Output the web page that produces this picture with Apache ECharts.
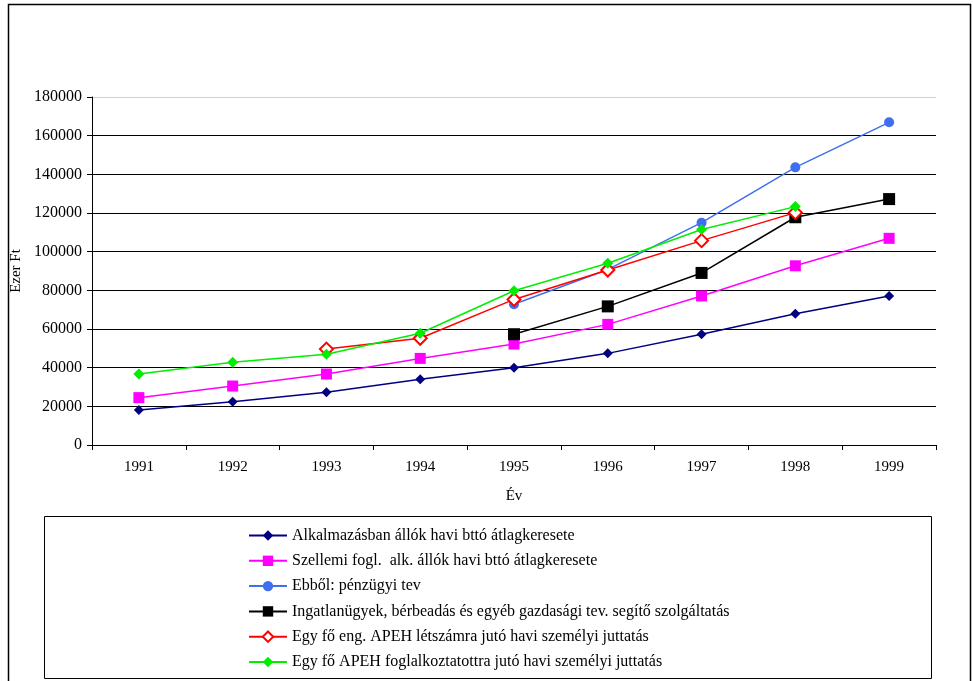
<!DOCTYPE html>
<html><head><meta charset="utf-8">
<script src="https://cdn.jsdelivr.net/npm/echarts@6/dist/echarts.min.js"></script>
<style>html,body{margin:0;padding:0;background:#fff}#c{width:973px;height:681px}</style>
</head><body><div id="c"></div>
<script>
const years = ['1991','1992','1993','1994','1995','1996','1997','1998','1999'];
const names = [
  'Alkalmazásban állók havi bttó átlagkeresete',
  'Szellemi fogl.  alk. állók havi bttó átlagkeresete',
  'Ebből: pénzügyi tev',
  'Ingatlanügyek, bérbeadás és egyéb gazdasági tev. segítő szolgáltatás',
  'Egy fő eng. APEH létszámra jutó havi személyi juttatás',
  'Egy fő APEH foglalkoztatottra jutó havi személyi juttatás'
];
const alkalmazas = [18100, 22400, 27300, 34000, 40000, 47400, 57300, 67900, 77100];
const szellemi = [24500, 30500, 36700, 44800, 52200, 62400, 77100, 92700, 106900];
const penzugyi = [null, null, null, null, 72800, 90800, 115000, 143600, 166900];
const ingatlan = [null, null, null, null, 57300, 71700, 89000, 117800, 127200];
const apehEng = [null, null, 49600, 55200, 75300, 90500, 105700, 120200, null];
const apehFogl = [36700, 42800, 46900, 57800, 79800, 94000, 111500, 123300, null];
const yTicks = [0, 20000, 40000, 60000, 80000, 100000, 120000, 140000, 160000, 180000];

const font = 'Liberation Serif';
const chart = echarts.init(document.getElementById('c'), null, {renderer:'canvas'});
function s(name, data, color, symbol, size, extra) {
  return Object.assign({
    name, type:'line', data, color, symbol, symbolSize:size,
    showAllSymbol:true, connectNulls:false,
    lineStyle:{color, width:1.5},
    itemStyle:{color},
    emphasis:{disabled:true}, animation:false
  }, extra||{});
}
const gridColors = yTicks.map((v, i) => i === yTicks.length - 1 ? '#d0d0d0' : '#000');
chart.setOption({
  animation:false,
  textStyle:{fontFamily:font},
  grid:{left:92, right:37, top:97, bottom:236},
  graphic:[
    {type:'rect', shape:{x:8.5, y:4.5, width:962, height:700}, style:{fill:'none', stroke:'#000', lineWidth:1.5}, silent:true},
    {type:'rect', shape:{x:44.5, y:516.5, width:887, height:162}, style:{fill:'none', stroke:'#000', lineWidth:1}, silent:true}
  ],
  xAxis:{
    type:'category', data:years, boundaryGap:true,
    name:'Év', nameLocation:'middle', nameGap:44,
    nameTextStyle:{fontFamily:font, fontSize:15, color:'#000'},
    axisLine:{lineStyle:{color:'#000', width:1}},
    axisTick:{show:true, alignWithLabel:false, length:5, lineStyle:{color:'#000'}},
    axisLabel:{fontFamily:font, fontSize:15, color:'#000', margin:15},
    splitLine:{show:false}
  },
  yAxis:{
    type:'value', min:0, max:180000, interval:20000,
    name:'Ezer Ft', nameLocation:'middle', nameGap:51, nameRotate:90,
    nameTextStyle:{fontFamily:font, fontSize:15, color:'#000'},
    axisLine:{show:true, lineStyle:{color:'#000', width:1}},
    axisTick:{show:true, length:5, lineStyle:{color:'#000'}},
    axisLabel:{fontFamily:font, fontSize:16, color:'#000', margin:10, formatter:v => String(v)},
    splitLine:{show:true, lineStyle:{color:gridColors, width:1}}
  },
  legend:{
    orient:'vertical', left:243, top:522.5, itemGap:9.3,
    itemWidth:38, itemHeight:13,
    textStyle:{fontFamily:font, fontSize:16, color:'#000'},
    data:names
  },
  series:[
    s(names[0], alkalmazas, '#000080', 'diamond', 10),
    s(names[1], szellemi, '#FF00FF', 'rect', 11),
    s(names[2], penzugyi, '#3F6FEF', 'circle', 10),
    s(names[3], ingatlan, '#000000', 'rect', 12),
    s(names[4], apehEng, '#FF0000', 'emptyDiamond', 13, {itemStyle:{color:'#FF0000', borderWidth:1.5}}),
    s(names[5], apehFogl, '#00EE00', 'diamond', 11)
  ]
});
</script></body></html>
